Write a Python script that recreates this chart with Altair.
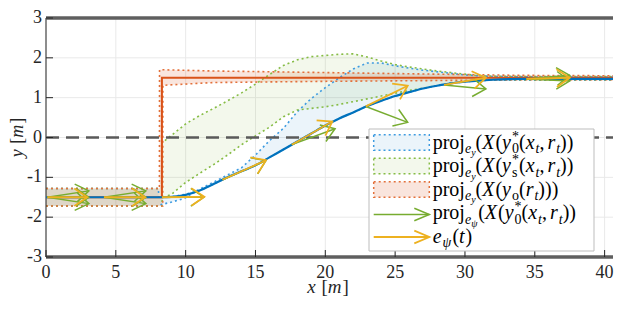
import math
import altair as alt
import pandas as pd

# ---------------- axes limits / plot size ----------------
X_MAX = 40.6
Y_MIN, Y_MAX = -3, 3
W, H = 567, 239
KX, KY = W / X_MAX, H / (Y_MAX - Y_MIN)

C_BLUE, C_ORANGE, C_YELLOW, C_GREEN = "#0072BD", "#D95319", "#EDB120", "#77AC30"
D_BLUE, D_GREEN, D_RED = "#3D9BE0", "#86BC45", "#E3703A"
FONT = "Liberation Serif"
INK = "#262626"

x_ticks = [0, 5, 10, 15, 20, 25, 30, 35, 40]
x_tick_labels = ["0", "5", "10", "15", "20", "25", "30", "35", "40"]
y_ticks = [-3, -2, -1, 0, 1, 2, 3]
y_tick_labels = ["-3", "-2", "-1", "0", "1", "2", "3"]

# ---------------- trajectory and reference ----------------
traj_x = [0, 8.3, 9, 10, 11, 12, 13, 14, 15, 16, 17, 18, 19, 20, 21, 22, 23, 24, 25,
          26, 27, 28, 29, 30, 31, 32, 34, 36, 40.6]
traj_y = [-1.5, -1.5, -1.49, -1.44, -1.33, -1.17, -1.0, -0.85, -0.70, -0.50, -0.30, -0.10,
          0.10, 0.30, 0.48, 0.63, 0.79, 0.92, 1.04, 1.14, 1.23, 1.30, 1.36, 1.40, 1.43,
          1.45, 1.47, 1.47, 1.47]
step_x = [0, 8.3, 8.3, 40.6]
step_y = [-1.5, -1.5, 1.5, 1.5]

# ---------------- projected sets (bands: x, lower, upper) ----------------
red_x = [0, 8.12, 8.13, 8.36, 8.37, 12, 20, 28, 34, 40.6]
red_lo = [-1.72, -1.72, -1.72, -1.72, 1.31, 1.38, 1.41, 1.43, 1.45, 1.45]
red_hi = [-1.28, -1.28, 1.70, 1.70, 1.70, 1.67, 1.63, 1.59, 1.56, 1.55]

grn_bx = [0, 8.28, 8.30, 8.32, 9, 10, 11, 12, 13, 14, 15, 16, 17, 18, 19, 20, 21, 22, 23,
          24, 25, 26, 27, 28, 29, 30, 31, 32, 35, 40.6]
grn_lo = [-1.72, -1.72, -1.72, -1.52, -1.42, -1.13, -0.90, -0.68, -0.44, -0.18, 0.04, 0.26,
          0.52, 0.69, 0.73, 0.77, 0.83, 0.90, 0.97, 1.04, 1.11, 1.18, 1.24, 1.30, 1.36,
          1.41, 1.44, 1.45, 1.45, 1.45]
grn_hi = [-1.28, -1.28, -0.14, -0.13, 0.06, 0.34, 0.55, 0.73, 0.92, 1.12, 1.34, 1.58,
          1.81, 1.95, 2.03, 2.06, 2.09, 2.10, 2.02, 1.92, 1.83, 1.77, 1.72, 1.67, 1.63,
          1.59, 1.55, 1.54, 1.53, 1.53]

blu_bx = [0, 8.05, 8.07, 9, 9.9, 10.5, 11, 12, 13, 14, 15, 16, 17, 18, 19, 20, 21, 22, 23,
          24, 25, 26, 27, 28, 29, 30, 31, 32, 35, 40.6]
blu_lo = [-1.72, -1.72, -1.70, -1.62, -1.53, -1.40, -1.33, -1.17, -1.00, -0.85, -0.70,
          -0.50, -0.30, -0.10, 0.10, 0.30, 0.48, 0.63, 0.79, 0.92, 1.04, 1.14, 1.23, 1.30,
          1.36, 1.40, 1.43, 1.44, 1.44, 1.44]
blu_hi = [-1.28, -1.28, -1.50, -1.49, -1.43, -1.38, -1.30, -1.12, -0.94, -0.76, -0.44,
          -0.08, 0.23, 0.65, 0.98, 1.25, 1.50, 1.72, 1.87, 1.87, 1.80, 1.74, 1.69, 1.65,
          1.61, 1.57, 1.55, 1.53, 1.52, 1.52]

# ---------------- arrows ----------------
yel_x0 = [0.1, 4.15, 8.3, 12.64, 17.6, 22.9, 28.5, 34.4]
yel_y0 = [-1.5, -1.5, -1.5, -1.06, -0.18, 0.78, 1.32, 1.47]
yel_x1 = [2.96, 7.1, 11.34, 15.75, 20.5, 25.9, 31.5, 37.5]
yel_y1 = [-1.5, -1.5, -1.49, -0.57, 0.40, 1.30, 1.50, 1.50]

gre_x0 = [0.1, 0.1, 0.1, 4.15, 4.15, 4.15, 8.3, 12.64, 17.6, 22.9, 28.5, 34.4, 34.4]
gre_y0 = [-1.5, -1.5, -1.5, -1.5, -1.5, -1.5, -1.5, -1.06, -0.18, 0.78, 1.32, 1.47, 1.47]
gre_x1 = [3.07, 3.07, 3.07, 7.15, 7.15, 7.15, 11.3, 15.75, 20.7, 25.9, 31.5, 37.5, 37.5]
gre_y1 = [-1.34, -1.5, -1.66, -1.34, -1.5, -1.66, -1.5, -0.58, 0.22, 0.38, 1.22, 1.56, 1.42]

# ---------------- texts (segments: text, level, italic[, stacked]) ----------------
legend_labels = [
    [("proj", 0, False), ("e", 1, True), ("y", 2, True), ("(", 0, False), ("X", 0, True),
     ("(", 0, False), ("y", 0, True), ("*", -1, False, True), ("0", 1, False), ("(", 0, False),
     ("x", 0, True), ("t", 1, True), (",", 0, False), ("r", 0, True), ("t", 1, True), ("))", 0, False)],
    [("proj", 0, False), ("e", 1, True), ("y", 2, True), ("(", 0, False), ("X", 0, True),
     ("(", 0, False), ("y", 0, True), ("*", -1, False, True), ("s", 1, False), ("(", 0, False),
     ("x", 0, True), ("t", 1, True), (",", 0, False), ("r", 0, True), ("t", 1, True), ("))", 0, False)],
    [("proj", 0, False), ("e", 1, True), ("y", 2, True), ("(", 0, False), ("X", 0, True),
     ("(", 0, False), ("y", 0, True), ("o", 1, False), ("(", 0, False), ("r", 0, True),
     ("t", 1, True), (")))", 0, False)],
    [("proj", 0, False), ("e", 1, True), ("ψ", 2, True), ("(", 0, False), ("X", 0, True),
     ("(", 0, False), ("y", 0, True), ("*", -1, False, True), ("0", 1, False), ("(", 0, False),
     ("x", 0, True), ("t", 1, True), (",", 0, False), ("r", 0, True), ("t", 1, True), ("))", 0, False)],
    [("e", 0, True), ("ψ", 1, True), ("(", 0, False), ("t", 0, True), (")", 0, False)],
]
x_title = [("x", 0, True), (" [", 0, False), ("m", 0, True), ("]", 0, False)]
y_title = [("y", 0, True), (" [", 0, False), ("m", 0, True), ("]", 0, False)]

# ---------------- helpers ----------------
xs = alt.Scale(domain=[0, X_MAX], nice=False, zero=False)
ys = alt.Scale(domain=[Y_MIN, Y_MAX], nice=False, zero=False)


def X(f):
    return alt.X(f, scale=xs, axis=None)


def Y(f):
    return alt.Y(f, scale=ys, axis=None)


def px2x(p):
    return p / KX


def py2y(p):
    return Y_MAX - p / KY


def band(xv, lo, hi):
    return pd.DataFrame({"x": xv, "lo": lo, "hi": hi})


def edges(xv, lo, hi):
    n = len(xv)
    return pd.DataFrame({"x": list(xv) + list(xv), "y": list(lo) + list(hi),
                         "edge": ["lo"] * n + ["hi"] * n, "i": list(range(n)) * 2})


def arrows(x0, y0, x1, y1):
    df = pd.DataFrame({"x0": x0, "y0": y0, "x1": x1, "y1": y1})
    df["ang"] = [math.degrees(math.atan2(-(b2 - b1) * KY, (a2 - a1) * KX)) % 360
                 for a1, b1, a2, b2 in zip(x0, y0, x1, y1)]
    return df


W_UP = {"p": .5, "r": .333, "o": .5, "j": .278, "(": .333, ")": .333, ",": .25, "*": .5,
        "0": .5, "s": .389, " ": .25, "[": .333, "]": .333}
W_IT = {"e": .444, "y": .444, "X": .611, "x": .444, "r": .389, "t": .278, "ψ": .70, "m": .722}


def layout(segs, x, base, sizes, dys):
    """Return (upright rows, italic rows, end) in pixel coordinates for a math-like label."""
    up, it = [], []
    stack_w = None
    for seg in segs:
        text, lvl, ital = seg[0], seg[1], seg[2]
        stacked = len(seg) > 3
        fs = sizes[lvl]
        lead = len(text) - len(text.lstrip(" "))
        x += lead * W_UP[" "] * fs
        text = text.lstrip(" ")
        (it if ital else up).append({"px": x, "py": base + dys[lvl], "fs": fs, "t": text})
        w = sum((W_IT if ital else W_UP).get(c, .5) for c in text) * fs
        if stacked:
            stack_w = w
            continue
        if stack_w is not None:
            w = max(w, stack_w)
            stack_w = None
        x += w
        if ital and lvl == 0:
            x += 1.0
        if text.endswith(","):
            x += 3.0
    return up, it, x


HEAD = "M-1,-0.68L0,0L-1,0.68"
HEAD_LEG = "M-1,-0.42L0,0L-1,0.42"
one = pd.DataFrame({"k": [0]})

layers = []

# grid
layers.append(alt.Chart(pd.DataFrame({"v": x_ticks})).mark_rule(color="#e9e9e9", strokeWidth=1).encode(
    x=X("v:Q"), y=alt.value(0), y2=alt.value(H)))
layers.append(alt.Chart(pd.DataFrame({"v": y_ticks})).mark_rule(color="#e9e9e9", strokeWidth=1).encode(
    y=Y("v:Q"), x=alt.value(0), x2=alt.value(W)))

# filled sets
for (bx, lo, hi, col, op) in [(blu_bx, blu_lo, blu_hi, C_BLUE, 0.08),
                              (grn_bx, grn_lo, grn_hi, C_GREEN, 0.09),
                              (red_x, red_lo, red_hi, C_ORANGE, 0.15)]:
    layers.append(alt.Chart(band(bx, lo, hi)).mark_area(color=col, opacity=op).encode(
        x=X("x:Q"), y=Y("lo:Q"), y2="hi:Q"))

for (bx, lo, hi, col) in [(blu_bx, blu_lo, blu_hi, D_BLUE),
                          (grn_bx, grn_lo, grn_hi, D_GREEN),
                          (red_x, red_lo, red_hi, D_RED)]:
    layers.append(alt.Chart(edges(bx, lo, hi)).mark_line(
        color=col, strokeWidth=1.6, strokeDash=[2, 3]).encode(
        x=X("x:Q"), y=Y("y:Q"), detail="edge:N", order="i:Q"))

# axis lines
layers.append(alt.Chart(one).mark_rule(color=INK, strokeWidth=1).encode(
    x=alt.value(0), y=alt.value(0), y2=alt.value(H)))
layers.append(alt.Chart(one).mark_rule(color=INK, strokeWidth=1).encode(
    x=alt.value(0), x2=alt.value(W), y=alt.value(H)))

# boundaries and dashed centre line
bnd = pd.DataFrame({"y": [Y_MAX, Y_MIN], "x0": [0, 0], "x1": [X_MAX, X_MAX]})
layers.append(alt.Chart(bnd).mark_rule(color="#5f5f5f", strokeWidth=3.5).encode(
    x=X("x0:Q"), x2="x1:Q", y=Y("y:Q")))
zero = pd.DataFrame({"y": [0], "x0": [0], "x1": [X_MAX]})
layers.append(alt.Chart(zero).mark_rule(color="#5a5a5a", strokeWidth=2.4, strokeDash=[13, 7]).encode(
    x=X("x0:Q"), x2="x1:Q", y=Y("y:Q")))

# reference step and trajectory
step = pd.DataFrame({"x": step_x, "y": step_y, "i": range(len(step_x))})
layers.append(alt.Chart(step).mark_line(color=C_ORANGE, strokeWidth=2).encode(
    x=X("x:Q"), y=Y("y:Q"), order="i:Q"))
traj = pd.DataFrame({"x": traj_x, "y": traj_y})
layers.append(alt.Chart(traj).mark_line(color=C_BLUE, strokeWidth=2.2, interpolate="monotone").encode(
    x=X("x:Q"), y=Y("y:Q")))

# arrows
for (df, col, sw) in [(arrows(gre_x0, gre_y0, gre_x1, gre_y1), C_GREEN, 1.5),
                      (arrows(yel_x0, yel_y0, yel_x1, yel_y1), C_YELLOW, 1.8)]:
    layers.append(alt.Chart(df).mark_rule(color=col, strokeWidth=sw).encode(
        x=X("x0:Q"), y=Y("y0:Q"), x2="x1:Q", y2="y1:Q"))
    layers.append(alt.Chart(df).mark_point(shape=HEAD, filled=False, size=676, strokeWidth=sw,
                                           opacity=1, color=col).encode(
        x=X("x1:Q"), y=Y("y1:Q"), angle=alt.Angle("ang:Q", scale=None)))

# inward ticks and tick labels
layers.append(alt.Chart(pd.DataFrame({"v": x_ticks})).mark_rule(color=INK, strokeWidth=1).encode(
    x=X("v:Q"), y=alt.value(H), y2=alt.value(H - 7)))
layers.append(alt.Chart(pd.DataFrame({"v": y_ticks})).mark_rule(color=INK, strokeWidth=1).encode(
    y=Y("v:Q"), x=alt.value(0), x2=alt.value(7)))
layers.append(alt.Chart(pd.DataFrame({"v": x_ticks, "t": x_tick_labels})).mark_text(
    font=FONT, fontSize=18, color=INK, align="center", baseline="top").encode(
    x=X("v:Q"), y=alt.value(H + 7), text="t:N"))
layers.append(alt.Chart(pd.DataFrame({"v": y_ticks, "t": y_tick_labels})).mark_text(
    font=FONT, fontSize=18, color=INK, align="right", baseline="middle").encode(
    y=Y("v:Q"), x=alt.value(-4), text="t:N"))

# axis titles (x: horizontal, y: rotated)
TS = {0: 19}
T0 = {0: 0}
tx_up, tx_it, tw = layout(x_title, 0, 0, TS, T0)
for rows, style in [(tx_up, "normal"), (tx_it, "italic")]:
    for rr in rows:
        layers.append(alt.Chart(one).mark_text(
            text=rr["t"], font=FONT, fontSize=19, fontStyle=style, color=INK,
            align="left", baseline="alphabetic").encode(
            x=alt.value(282 - tw / 2 + rr["px"]), y=alt.value(H + 36)))
TSY = {0: 18}
ty_up, ty_it, th = layout(y_title, 0, 0, TSY, T0)
for rows, style in [(ty_up, "normal"), (ty_it, "italic")]:
    for rr in rows:
        layers.append(alt.Chart(one).mark_text(
            text=rr["t"], font=FONT, fontSize=18, fontStyle=style, color=INK, angle=270,
            align="left", baseline="middle").encode(
            x=alt.value(-28), y=alt.value(H / 2 + th / 2 - rr["px"])))

# ---------------- legend ----------------
LX0, LY0 = 323, 111
ROW = 23.5
layers.append(alt.Chart(one).mark_rect(fill="white", stroke="#bdbdbd", strokeWidth=1).encode(
    x=alt.value(LX0), x2=alt.value(LX0 + 225), y=alt.value(LY0), y2=alt.value(LY0 + 122)))
SW0, SW1 = LX0 + 4.7, LX0 + 60.3
for r, (col, op, dcol) in enumerate([(C_BLUE, 0.08, D_BLUE), (C_GREEN, 0.09, D_GREEN),
                                     (C_ORANGE, 0.15, D_RED)]):
    cy = LY0 + 13.5 + ROW * r
    layers.append(alt.Chart(one).mark_rect(fill=col, fillOpacity=op, stroke=dcol, strokeWidth=1.5,
                                           strokeDash=[2, 3]).encode(
        x=alt.value(SW0), x2=alt.value(SW1), y=alt.value(cy - 7.8), y2=alt.value(cy + 7.8)))
for cy, col, sw in [(LY0 + 85.5, C_GREEN, 1.5), (LY0 + 108, C_YELLOW, 1.8)]:
    layers.append(alt.Chart(one).mark_rule(color=col, strokeWidth=sw).encode(
        x=alt.value(SW0), x2=alt.value(SW1), y=alt.value(cy)))
    layers.append(alt.Chart(one).mark_point(shape=HEAD_LEG, filled=False, size=900, strokeWidth=sw,
                                            opacity=1, color=col).encode(
        x=alt.value(SW1), y=alt.value(cy)))

SIZE = {0: 20, 1: 14, 2: 10, -1: 14}
DY = {0: 0, 1: 4.5, 2: 7.5, -1: -8}
up_rows, it_rows = [], []
for r, segs in enumerate(legend_labels):
    u, i, _ = layout(segs, LX0 + 63.7, LY0 + 19.5 + ROW * r, SIZE, DY)
    up_rows += u
    it_rows += i
for rows, style in [(up_rows, "normal"), (it_rows, "italic")]:
    df = pd.DataFrame(rows)
    df["lx"] = df["px"].map(px2x)
    df["ly"] = df["py"].map(py2y)
    layers.append(alt.Chart(df).mark_text(
        align="left", baseline="alphabetic", font=FONT, fontStyle=style, color="black").encode(
        x=X("lx:Q"), y=Y("ly:Q"),
        size=alt.Size("fs:Q", scale=None, legend=None), text="t:N"))

chart = alt.layer(*layers).properties(
    width=W, height=H,
    autosize=alt.AutoSizeParams(type="none"),
    padding={"left": 38, "top": 10, "right": 2, "bottom": 41},
).configure_view(stroke=None)

chart.save("out.html", embed_options={"renderer": "svg", "actions": False})
